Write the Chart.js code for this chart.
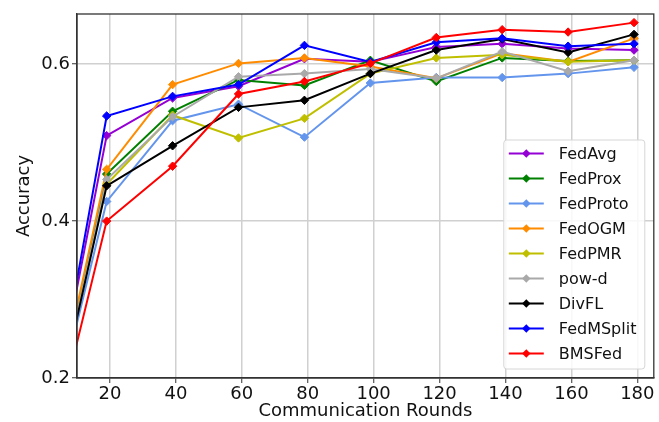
<!DOCTYPE html>
<html>
<head>
<meta charset="utf-8">
<script src="https://cdn.jsdelivr.net/npm/chart.js@4/dist/chart.umd.min.js"></script>
<style>
  html, body { margin: 0; padding: 0; background: #fff; }
</style>
</head>
<body>
<canvas id="accChart" width="659" height="422"></canvas>
<script>
// DATA
const rounds = [0, 19, 39, 59, 79, 99, 119, 139, 159, 179];
const xTicks = [20, 40, 60, 80, 100, 120, 140, 160, 180];
const yTicks = [0.2, 0.4, 0.6];

const fedAvg    = [0.099, 0.509, 0.557, 0.572, 0.607, 0.603, 0.622, 0.626, 0.620, 0.618];
const fedProx   = [0.090, 0.460, 0.540, 0.580, 0.573, 0.605, 0.578, 0.608, 0.604, 0.605];
const fedProto  = [0.098, 0.425, 0.528, 0.549, 0.507, 0.576, 0.583, 0.583, 0.588, 0.596];
const fedOGM    = [0.097, 0.466, 0.574, 0.601, 0.608, 0.597, 0.582, 0.614, 0.603, 0.633];
const fedPMR    = [0.095, 0.447, 0.535, 0.506, 0.531, 0.588, 0.608, 0.612, 0.603, 0.605];
const powD      = [0.088, 0.453, 0.533, 0.584, 0.588, 0.594, 0.582, 0.616, 0.591, 0.605];
const divFL     = [0.090, 0.445, 0.496, 0.545, 0.554, 0.588, 0.618, 0.632, 0.615, 0.638];
const fedMSplit = [0.093, 0.534, 0.559, 0.574, 0.624, 0.603, 0.628, 0.633, 0.623, 0.626];
const bmsFed    = [0.073, 0.400, 0.470, 0.562, 0.578, 0.601, 0.634, 0.644, 0.641, 0.653];

const names  = ["FedAvg", "FedProx", "FedProto", "FedOGM", "FedPMR", "pow-d", "DivFL", "FedMSplit", "BMSFed"];
const series = [fedAvg, fedProx, fedProto, fedOGM, fedPMR, powD, divFL, fedMSplit, bmsFed];
const colors = ["#9400d3", "#008000", "#6495ed", "#ff8c00", "#bfbf00", "#a9a9a9", "#000000", "#0000ff", "#ff0000"];

Chart.defaults.font.family = "'DejaVu Sans', sans-serif";
Chart.defaults.color = "#111";

/* build datasets, later series drawn on top like matplotlib */
const datasets = series.map((vals, i) => ({
  label: names[i],
  data: vals.map((v, j) => ({ x: rounds[j], y: v })),
  borderColor: colors[i],
  backgroundColor: colors[i],
  pointBackgroundColor: colors[i],
  pointBorderColor: colors[i],
  borderWidth: 2,
  pointStyle: "rectRot",
  pointRadius: 4.2,
  pointBorderWidth: 1,
  tension: 0,
  order: names.length - i
}));

/* frame round the plot (matplotlib spines) */
const framePlugin = {
  id: "frame",
  afterDatasetsDraw(chart) {
    const { ctx, chartArea: a } = chart;
    ctx.save();
    ctx.strokeStyle = "#333";
    ctx.lineWidth = 1.3;
    ctx.strokeRect(a.left, a.top, a.right - a.left, a.bottom - a.top);
    ctx.restore();
  }
};

/* legend: line + diamond marker, lower right */
const legendPlugin = {
  id: "mplLegend",
  afterDraw(chart) {
    const { ctx, chartArea: a } = chart;
    const w = 141, h = 229;
    const x0 = a.right - 9 - w, y0 = a.bottom - 9 - h;
    ctx.save();
    ctx.beginPath();
    ctx.roundRect(x0, y0, w, h, 3);
    ctx.fillStyle = "rgba(255,255,255,0.85)";
    ctx.fill();
    ctx.strokeStyle = "#d6d6d6";
    ctx.lineWidth = 1;
    ctx.stroke();
    ctx.font = "16px 'DejaVu Sans', sans-serif";
    ctx.textBaseline = "middle";
    chart.data.datasets.forEach((ds, i) => {
      const yy = y0 + 13.5 + i * 25;
      ctx.strokeStyle = ds.borderColor;
      ctx.lineWidth = 2;
      ctx.beginPath();
      ctx.moveTo(x0 + 5, yy);
      ctx.lineTo(x0 + 40, yy);
      ctx.stroke();
      const cx = x0 + 22.5, r = 4.2;
      ctx.fillStyle = ds.borderColor;
      ctx.beginPath();
      ctx.moveTo(cx, yy - r);
      ctx.lineTo(cx + r, yy);
      ctx.lineTo(cx, yy + r);
      ctx.lineTo(cx - r, yy);
      ctx.closePath();
      ctx.fill();
      ctx.fillStyle = "#111";
      ctx.fillText(ds.label, x0 + 55, yy + 1);
    });
    ctx.restore();
  }
};

new Chart(document.getElementById("accChart").getContext("2d"), {
  type: "line",
  data: { datasets },
  options: {
    responsive: false,
    animation: false,
    events: [],
    layout: { padding: { left: 0, right: 2, top: 14, bottom: 0 } },
    plugins: { legend: { display: false }, tooltip: { enabled: false } },
    scales: {
      x: {
        type: "linear",
        min: 10,
        max: 185,
        afterBuildTicks: s => { s.ticks = xTicks.map(v => ({ value: v })); },
        afterFit: s => { s.height = 44; },
        ticks: { font: { size: 18 }, padding: 1, maxRotation: 0, color: "#111" },
        grid: { color: "#d0d0d0", lineWidth: 1.5, tickColor: "#333", tickLength: 5, tickWidth: 1 },
        border: { color: "#333", width: 1.3 },
        title: { display: true, text: "Communication Rounds", font: { size: 18 }, padding: { top: 0, bottom: 0 }, color: "#111" }
      },
      y: {
        min: 0.2,
        max: 0.664,
        afterBuildTicks: s => { s.ticks = yTicks.map(v => ({ value: v })); },
        afterFit: s => { s.width = 77; },
        ticks: { font: { size: 18 }, padding: 2, color: "#111", callback: v => v.toFixed(1) },
        grid: { color: "#d0d0d0", lineWidth: 1.5, tickColor: "#333", tickLength: 5, tickWidth: 1 },
        border: { color: "#333", width: 1.3 },
        title: { display: true, text: "Accuracy", font: { size: 18 }, padding: { top: 14, bottom: 0 }, color: "#111" }
      }
    }
  },
  plugins: [framePlugin, legendPlugin]
});
</script>
</body>
</html>
